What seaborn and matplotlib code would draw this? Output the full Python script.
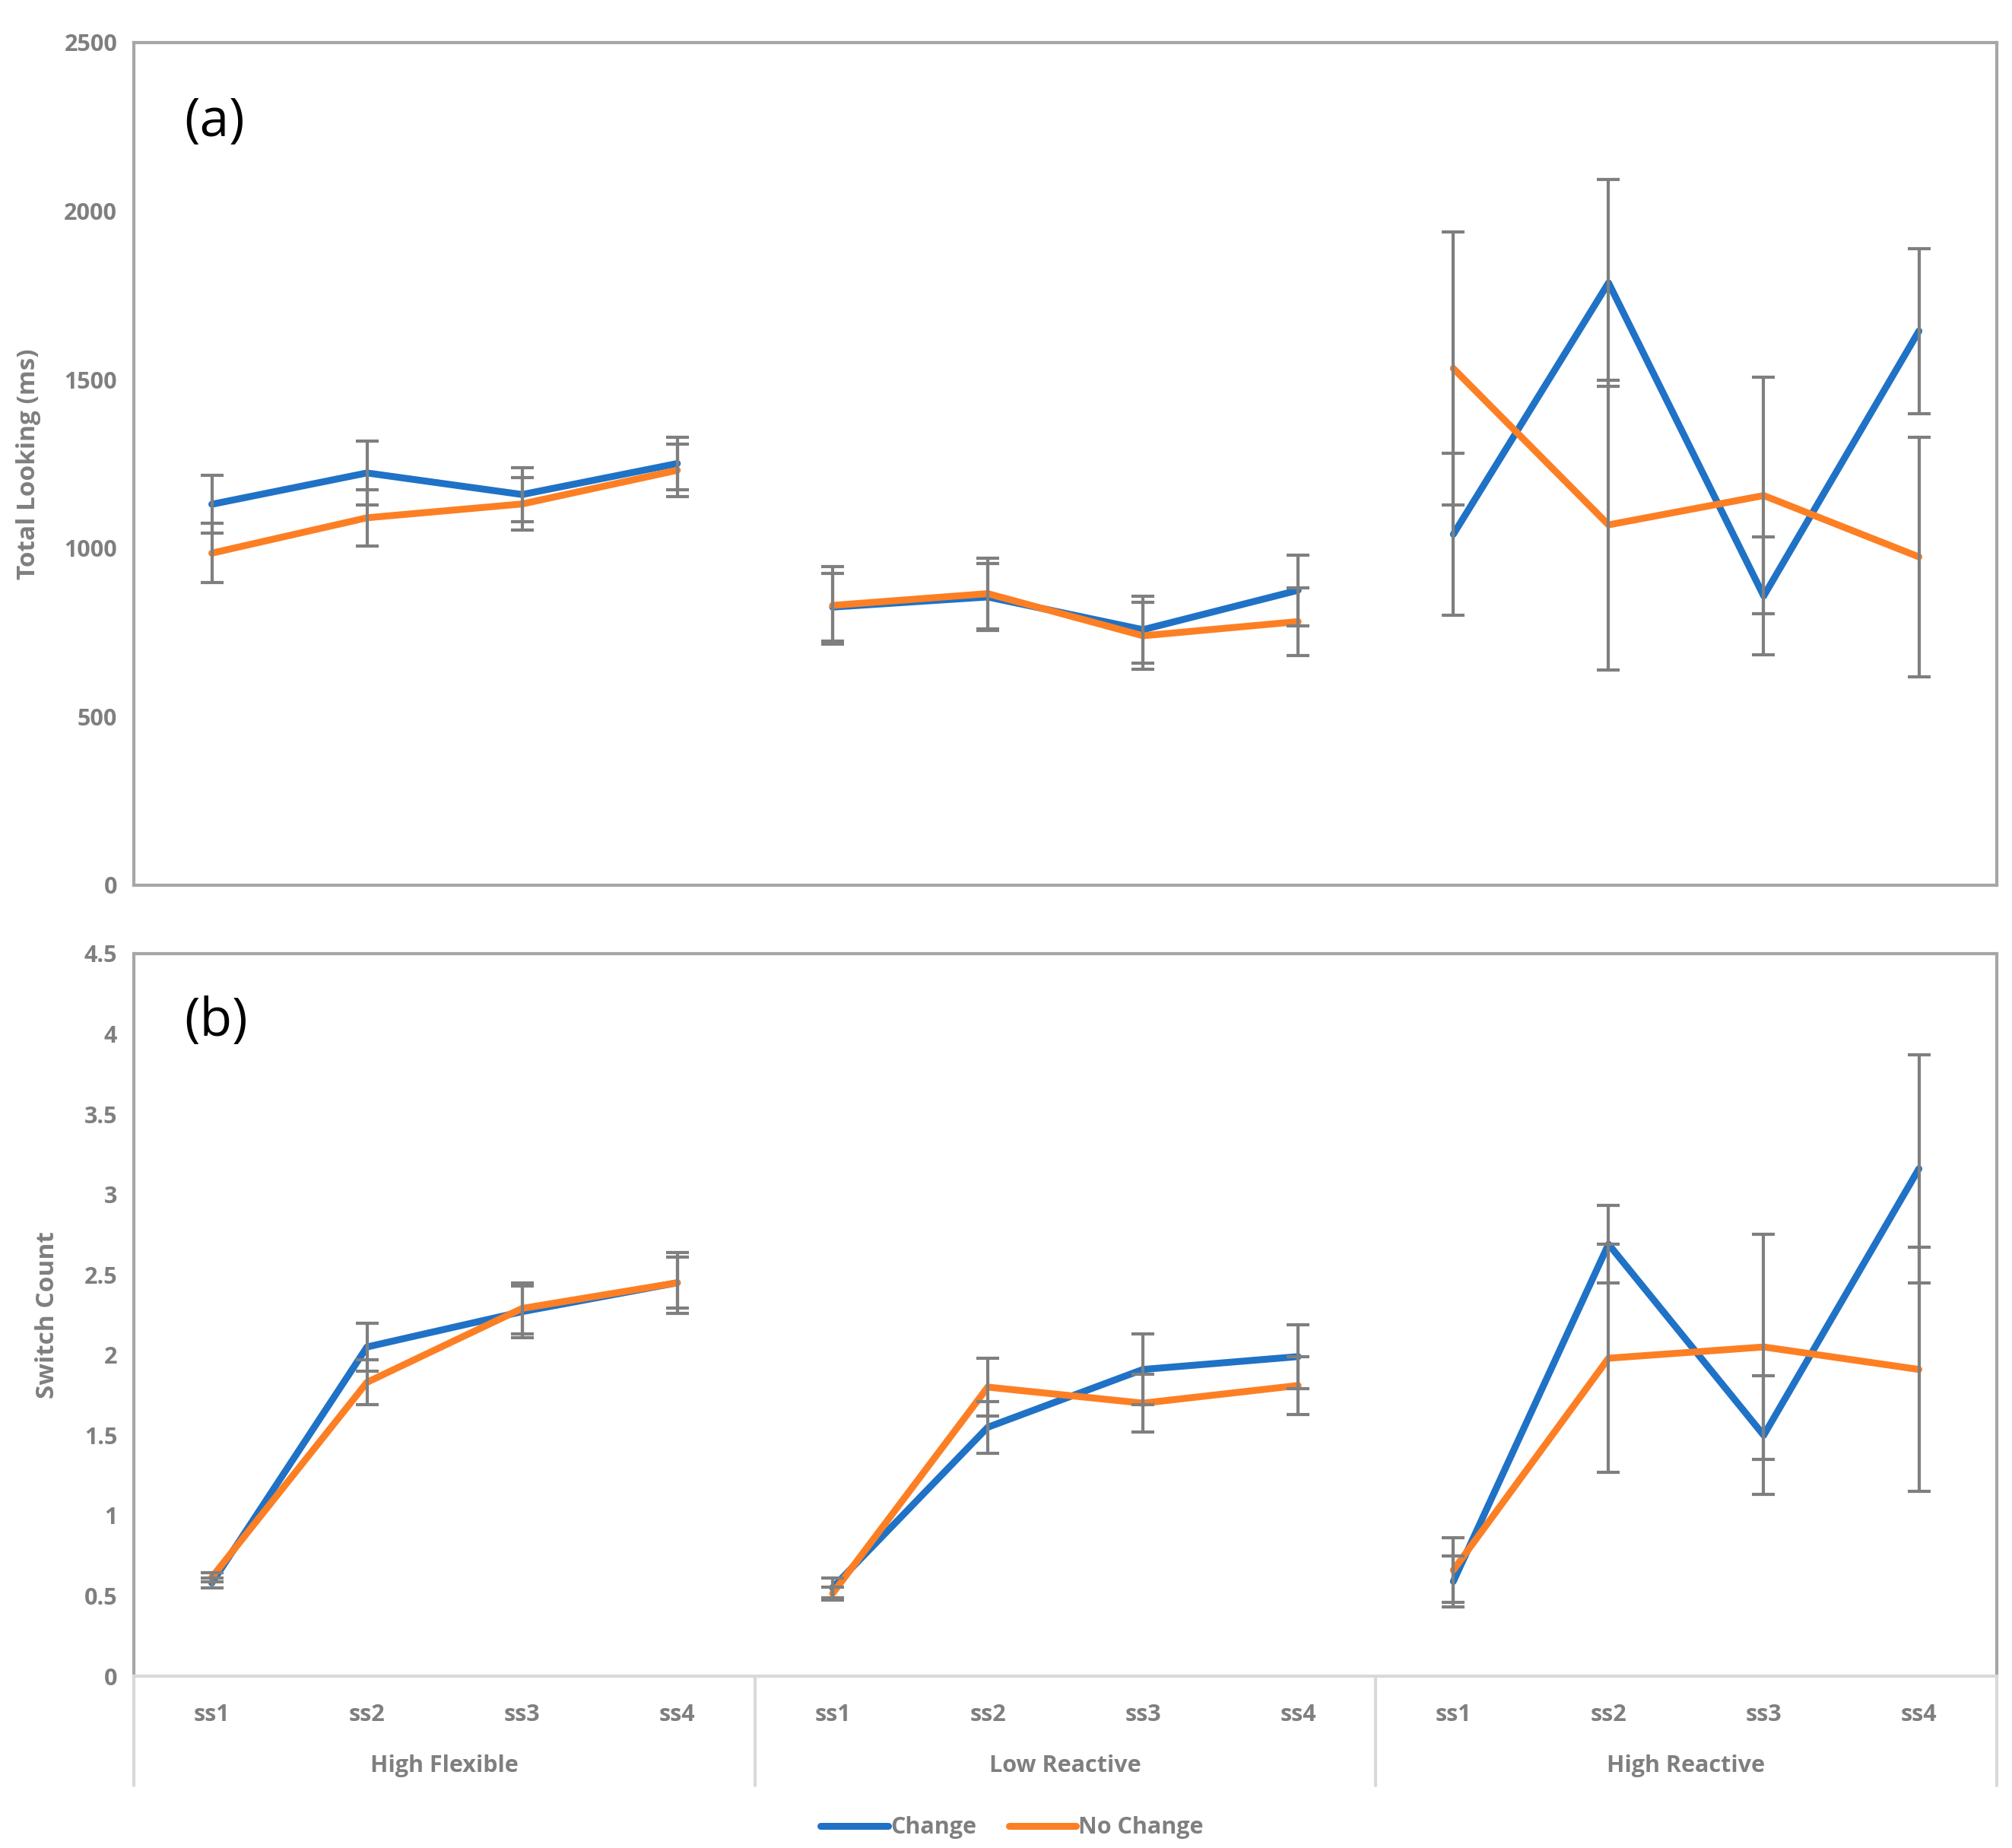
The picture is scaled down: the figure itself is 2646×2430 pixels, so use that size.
import numpy as np
import pandas as pd
import seaborn as sns
import matplotlib.pyplot as plt
from matplotlib.lines import Line2D

groups = ["High Flexible", "Low Reactive", "High Reactive"]
sessions = ["ss1", "ss2", "ss3", "ss4"]
conditions = ["Change", "No Change"]

# (a) total looking (ms)
look_change = [1130, 1223, 1159, 1251, 825, 855, 758, 875, 1041, 1787, 858, 1644]
look_change_err = [85, 95, 80, 78, 100, 100, 100, 105, 240, 306, 175, 245]
look_nochange = [985, 1090, 1131, 1231, 830, 865, 740, 782, 1533, 1069, 1156, 974]
look_nochange_err = [88, 83, 78, 78, 115, 105, 100, 100, 405, 430, 350, 355]

# (b) switch count
switch_change = [0.58, 2.05, 2.27, 2.45, 0.55, 1.55, 1.91, 1.99, 0.59, 2.69, 1.50, 3.16]
switch_change_err = [0.03, 0.15, 0.16, 0.19, 0.06, 0.16, 0.22, 0.20, 0.16, 0.24, 0.37, 0.71]
switch_nochange = [0.615, 1.83, 2.29, 2.45, 0.515, 1.80, 1.70, 1.81, 0.66, 1.98, 2.05, 1.91]
switch_nochange_err = [0.03, 0.14, 0.16, 0.16, 0.04, 0.18, 0.18, 0.18, 0.20, 0.71, 0.70, 0.76]

colors = {"Change": "#1f72c6", "No Change": "#fd7f24"}
grey = "#7f7f7f"
fs = 22


def make_df(change, change_err, nochange, nochange_err):
    rows = []
    for cond, vals, errs in [("Change", change, change_err), ("No Change", nochange, nochange_err)]:
        for i, (v, e) in enumerate(zip(vals, errs)):
            rows.append({"group": groups[i // 4], "session": sessions[i % 4],
                         "pos": i, "condition": cond, "value": v, "err": e})
    return pd.DataFrame(rows)


df_look = make_df(look_change, look_change_err, look_nochange, look_nochange_err)
df_switch = make_df(switch_change, switch_change_err, switch_nochange, switch_nochange_err)

sns.set_style("white")
plt.rcParams['font.family'] = ['Open Sans', 'DejaVu Sans']

fig = plt.figure(figsize=(26.46, 24.30), dpi=100)
ax1 = fig.add_axes([0.0667, 0.521, 0.9256, 0.456])
ax2 = fig.add_axes([0.0667, 0.093, 0.9256, 0.391])


def draw(ax, df):
    for g in groups:
        sub = df[df["group"] == g]
        sns.lineplot(data=sub, x="pos", y="value", hue="condition", hue_order=conditions,
                     palette=colors, ax=ax, legend=False, linewidth=6.5,
                     solid_capstyle="round", solid_joinstyle="round", zorder=2)
    for cond in conditions:
        sub = df[df["condition"] == cond]
        ax.errorbar(sub["pos"], sub["value"], yerr=sub["err"], fmt="none",
                    ecolor=grey, elinewidth=3, capsize=11, capthick=3, zorder=3)
    ax.set_xlim(-0.5, 11.5)
    ax.set_xlabel("")
    ax.tick_params(axis="y", length=0, labelsize=fs, labelcolor=grey, pad=16)


draw(ax1, df_look)
ax1.set_ylim(0, 2500)
ax1.set_yticks([0, 500, 1000, 1500, 2000, 2500])
ax1.set_xticks([])
for lab in ax1.get_yticklabels():
    lab.set_fontweight("bold")
for s in ax1.spines.values():
    s.set_color("#a6a6a6")
    s.set_linewidth(3)
ax1.set_ylabel("Total Looking (ms)", fontsize=24, color=grey, fontweight="bold")
ax1.yaxis.set_label_coords(-0.050, 0.5)
ax1.text(0.027, 0.905, "(a)", transform=ax1.transAxes, fontsize=50, color="black",
         va="center", ha="left")

draw(ax2, df_switch)
ax2.set_ylim(0, 4.5)
ax2.set_yticks([0, 0.5, 1, 1.5, 2, 2.5, 3, 3.5, 4, 4.5])
ax2.set_yticklabels(["0", "0.5", "1", "1.5", "2", "2.5", "3", "3.5", "4", "4.5"])
for lab in ax2.get_yticklabels():
    lab.set_fontweight("bold")
for name, s in ax2.spines.items():
    s.set_color("#a6a6a6")
    s.set_linewidth(3)
ax2.spines["bottom"].set_color("#d9d9d9")
ax2.set_ylabel("Switch Count", fontsize=24, color=grey, fontweight="bold")
ax2.yaxis.set_label_coords(-0.040, 0.5)
ax2.text(0.027, 0.905, "(b)", transform=ax2.transAxes, fontsize=50, color="black",
         va="center", ha="left")

# category axis: sessions and groups
positions = np.arange(len(groups) * len(sessions))
ax2.set_xticks(positions)
ax2.set_xticklabels(sessions * len(groups))
ax2.tick_params(axis="x", length=0, labelsize=fs, labelcolor=grey, pad=26)
for lab in ax2.get_xticklabels():
    lab.set_fontweight("bold")
trans = ax2.get_xaxis_transform()
for k, g in enumerate(groups):
    center = positions[k * 4:(k + 1) * 4].mean()
    ax2.text(center, -0.124, g, transform=trans, ha="center", va="center",
             fontsize=fs, color=grey, fontweight="bold")
for b in [-0.5, 3.5, 7.5, 11.5]:
    ax2.add_line(Line2D([b, b], [0, -0.152], transform=trans, color="#d9d9d9",
                        linewidth=3, clip_on=False))

handles = [Line2D([], [], color=colors[c], linewidth=6.5, solid_capstyle="round") for c in conditions]
fig.legend(handles, conditions, loc="center", bbox_to_anchor=(0.503, 0.011), ncol=2,
           frameon=False, handlelength=2.9, handletextpad=0.1, columnspacing=1.4,
           prop={"size": fs, "weight": "bold"}, labelcolor=grey)

fig.savefig("out.png", dpi=100, facecolor="white")
